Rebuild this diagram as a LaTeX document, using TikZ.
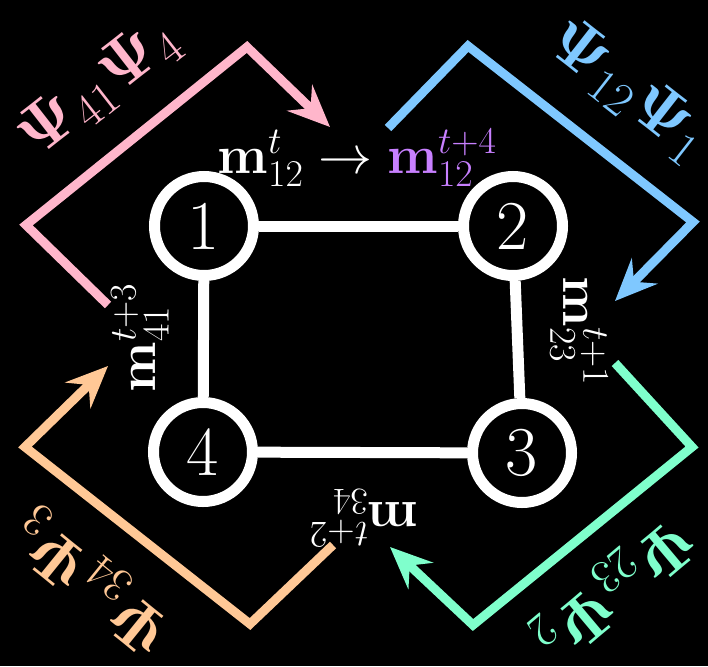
\RequirePackage{fix-cm}
\documentclass[tikz,border=0pt]{standalone}
\usepackage{amsmath}
\usetikzlibrary{arrows.meta}
\definecolor{pinkc}{RGB}{255,182,203}
\definecolor{bluec}{RGB}{127,200,255}
\definecolor{greenc}{RGB}{127,255,204}
\definecolor{orangec}{RGB}{255,200,150}
\definecolor{purplec}{RGB}{200,128,255}
\begin{document}
\begin{tikzpicture}[x=1pt,y=-1pt,
 vert/.style={circle,draw=white,line width=11pt,minimum size=99pt,inner sep=0pt,text=white,font=\fontsize{70}{80}\selectfont},
 edge/.style={draw=white,line width=11pt},
 flow/.style={line width=9pt,-{Stealth[length=42pt,width=36pt,inset=15pt]}},
 lab/.style={text=white,font=\fontsize{54}{60}\selectfont,inner sep=0pt},
 psi/.style={font=\fontsize{68}{75}\selectfont,inner sep=0pt}]
\fill[black] (0,0) rectangle (708,666);
\useasboundingbox (0,0) rectangle (708,666);
\node[vert] (n1) at (204,226) {1};
\node[vert] (n2) at (513,226) {2};
\node[vert] (n3) at (522,453) {3};
\node[vert] (n4) at (203,452) {4};
\draw[edge] (n1) -- (n2);
\draw[edge] (n2) -- (n3);
\draw[edge] (n3) -- (n4);
\draw[edge] (n4) -- (n1);
% flows
\coordinate (p0) at (108,305); \coordinate (p1) at (26,225); \coordinate (p2) at (247,47); \coordinate (p3) at (330,127);
\coordinate (b0) at (388,128); \coordinate (b1) at (468,46); \coordinate (b2) at (693,222); \coordinate (b3) at (615,301);
\coordinate (g0) at (615,363); \coordinate (g1) at (692,447); \coordinate (g2) at (473,625); \coordinate (g3) at (390,547);
\coordinate (o0) at (333,545); \coordinate (o1) at (250,624); \coordinate (o2) at (25,447); \coordinate (o3) at (108,366);
\draw[flow,pinkc] (p0) -- (p1) -- (p2) -- (p3);
\draw[flow,bluec] (b0) -- (b1) -- (b2) -- (b3);
\draw[flow,greenc] (g0) -- (g1) -- (g2) -- (g3);
\draw[flow,orangec] (o0) -- (o1) -- (o2) -- (o3);
% message labels
\node[lab] (m12) at (357,158) {$\mathbf{m}_{12}^{t}\to{\color{purplec}\mathbf{m}_{12}^{t+4}}$};
\node[lab,rotate=90] (m41) at (140,338) {$\mathbf{m}_{41}^{t+3}$};
\node[lab,rotate=-90] (m23) at (579,331) {$\mathbf{m}_{23}^{t+1}$};
\node[lab,rotate=180] (m34) at (364,518) {$\mathbf{m}_{34}^{t+2}$};
% psi labels
\node[psi,text=pinkc,rotate=38] (s41) at (98,88) {$\mathbf{\Psi}_{41}\mathbf{\Psi}_{4}$};
\node[psi,text=bluec,rotate=-38] (s12) at (628,90) {$\mathbf{\Psi}_{12}\mathbf{\Psi}_{1}$};
\node[psi,text=greenc,rotate=220] (s23) at (614,588) {$\mathbf{\Psi}_{23}\mathbf{\Psi}_{2}$};
\node[psi,text=orangec,rotate=141] (s34) at (93,582) {$\mathbf{\Psi}_{34}\mathbf{\Psi}_{3}$};
\end{tikzpicture}
\end{document}
